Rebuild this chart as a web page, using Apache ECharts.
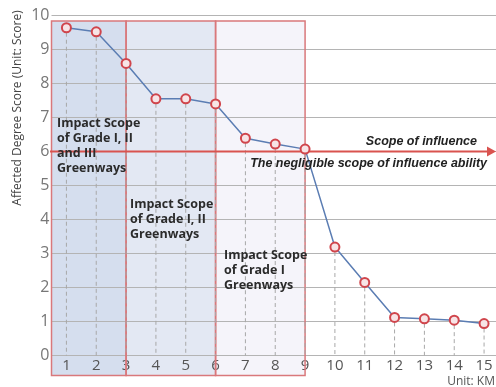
<!DOCTYPE html>
<html><head><meta charset="utf-8">
<script src="https://cdn.jsdelivr.net/npm/echarts@6/dist/echarts.min.js"></script>
<style>html,body{margin:0;padding:0;background:#fff}#c{width:496px;height:387px}</style>
</head><body><div id="c"></div>
<script>
// ---- data ----
const distances = [1,2,3,4,5,6,7,8,9,10,11,12,13,14,15];
const scores = [9.64,9.52,8.59,7.55,7.55,7.40,6.39,6.22,6.07,3.19,2.15,1.12,1.08,1.04,0.94];
const xTickLabels = [1,2,3,4,5,6,7,8,9,10,11,12,13,14,15];
const yTicks = [0,1,2,3,4,5,6,7,8,9,10];
const regionStart = [0.5, 3, 6];
const regionEnd = [3, 6, 9];
const regionTop = 9.84;
const regionBottom = -0.59;
const thresholdScore = 6;
const thresholdFrom = 0.45;
const thresholdTo = 15.4;
const regionLabels = [
  'Impact Scope\nof Grade I, II\nand III\nGreenways',
  'Impact Scope\nof Grade I, II\nGreenways',
  'Impact Scope\nof Grade I\nGreenways'
];
const yTitle = 'Affected Degree Score (Unit: Score)';
const xUnit = 'Unit: KM';
const aboveLabel = 'Scope of influence';
const belowLabel = 'The negligible scope of influence ability';

const regionFills = ['#d5deee', '#e3e8f3', '#f5f4fa'];

const chart = echarts.init(document.getElementById('c'));
const regionData = regionStart.map((s, i) => [s, regionEnd[i]]);
const pointData = distances.map((d, i) => [d, scores[i]]);

function boxItem(stroke) {
  return function (params, api) {
    const p0 = api.coord([api.value(0), regionTop]);
    const p1 = api.coord([api.value(1), regionBottom]);
    return {
      type: 'rect',
      shape: { x: p0[0], y: p0[1], width: p1[0] - p0[0], height: p1[1] - p0[1] },
      style: stroke
        ? { fill: 'none', stroke: '#d9787b', lineWidth: 1.5 }
        : { fill: regionFills[params.dataIndex] }
    };
  };
}

const option = {
  animation: false,
  backgroundColor: '#fff',
  grid: { left: 51.5, right: 0, top: 15.5, bottom: 31.5 },
  xAxis: {
    type: 'value', min: 0.5, max: 15.4, z: 1,
    axisLine: { show: false }, axisTick: { show: false }, splitLine: { show: false },
    axisLabel: {
      customValues: xTickLabels, margin: 3, fontSize: 15, color: '#555',
      fontFamily: 'Open Sans'
    }
  },
  yAxis: {
    type: 'value', min: 0, max: 10, interval: 1, z: 1,
    axisLine: { show: false }, axisTick: { show: false },
    splitLine: { lineStyle: { color: '#b4b4b4', width: 1 } },
    axisLabel: { margin: 2, fontSize: 16, color: '#777', fontFamily: 'Open Sans' }
  },
  series: [
    { type: 'custom', z: 0, clip: false, silent: true, renderItem: boxItem(false), data: regionData },
    { type: 'custom', z: 2, clip: false, silent: true, renderItem: boxItem(true), data: regionData },
    {
      type: 'custom', z: 3, silent: true, clip: false,
      renderItem: function (params, api) {
        const a = api.coord([api.value(0), api.value(1)]);
        const b = api.coord([api.value(0), 0]);
        return { type: 'line', shape: { x1: a[0], y1: a[1] + 5, x2: b[0], y2: b[1] },
          style: { stroke: '#a8a8a8', lineWidth: 1, lineDash: [4, 3] } };
      },
      data: pointData
    },
    {
      type: 'custom', z: 4, silent: true, clip: false,
      renderItem: function (params, api) {
        const a = api.coord([thresholdFrom, api.value(0)]);
        const b = api.coord([thresholdTo, api.value(0)]);
        return { type: 'group', children: [
          { type: 'line', shape: { x1: a[0], y1: a[1], x2: b[0] - 6, y2: b[1] },
            style: { stroke: '#d9534f', lineWidth: 2 } },
          { type: 'polygon', shape: { points: [[b[0], b[1]], [b[0] - 9, b[1] - 5], [b[0] - 9, b[1] + 5]] },
            style: { fill: '#d9534f' } }
        ] };
      },
      data: [[thresholdScore]]
    },
    {
      type: 'line', z: 5, data: pointData,
      symbol: 'circle', symbolSize: 9,
      lineStyle: { color: '#5b7db3', width: 1.5 },
      itemStyle: { color: '#f7e4e6', borderColor: '#d0454c', borderWidth: 2 }
    }
  ],
  graphic: [
    { type: 'text', x: 18, y: 108, rotation: Math.PI / 2,
      style: { text: yTitle, fill: '#444', fontSize: 12, fontFamily: 'Open Sans', align: 'center', verticalAlign: 'middle' } },
    { type: 'text', x: 495, y: 382,
      style: { text: xUnit, fill: '#555', fontSize: 12, fontFamily: 'Open Sans', align: 'right', verticalAlign: 'middle' } },
    { type: 'text', x: 57, y: 116, z: 10,
      style: { text: regionLabels[0], fill: '#2b2b2b', fontSize: 12.5, fontWeight: 'bold', lineHeight: 15, fontFamily: 'Open Sans' } },
    { type: 'text', x: 130, y: 197, z: 10,
      style: { text: regionLabels[1], fill: '#2b2b2b', fontSize: 12.5, fontWeight: 'bold', lineHeight: 15, fontFamily: 'Open Sans' } },
    { type: 'text', x: 224, y: 248, z: 10,
      style: { text: regionLabels[2], fill: '#2b2b2b', fontSize: 12.5, fontWeight: 'bold', lineHeight: 15, fontFamily: 'Open Sans' } },
    { type: 'text', x: 477, y: 142, z: 10,
      style: { text: aboveLabel, fill: '#222', fontSize: 12.5, fontWeight: 'bold', fontStyle: 'italic', fontFamily: 'Liberation Sans', align: 'right', verticalAlign: 'middle' } },
    { type: 'text', x: 487, y: 164, z: 10,
      style: { text: belowLabel, fill: '#222', fontSize: 12.5, fontWeight: 'bold', fontStyle: 'italic', fontFamily: 'Liberation Sans', align: 'right', verticalAlign: 'middle' } }
  ]
};
chart.setOption(option);
</script></body></html>
